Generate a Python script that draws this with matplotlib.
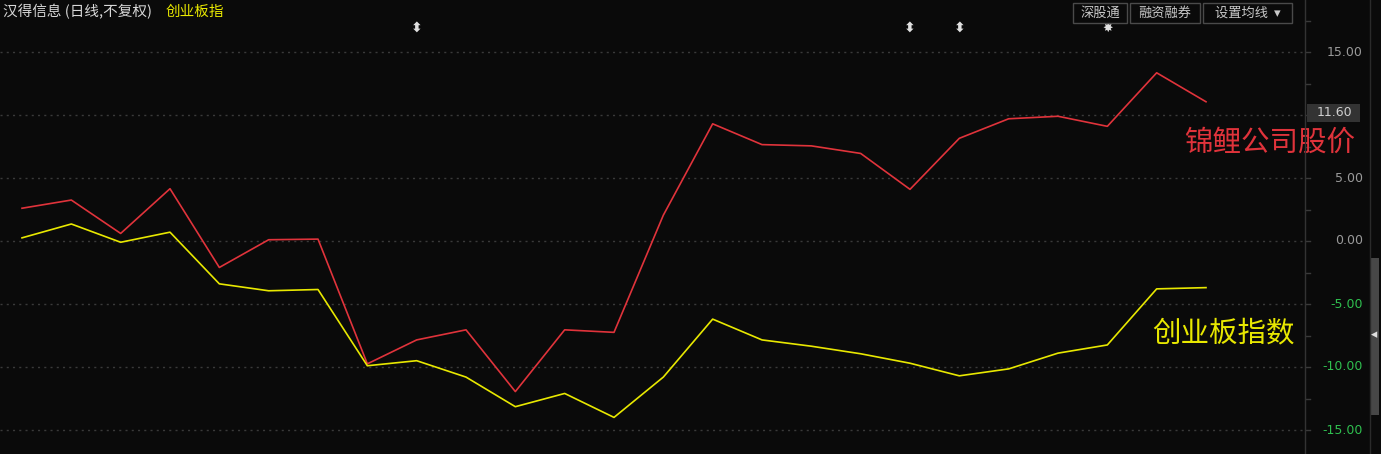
import matplotlib
matplotlib.use('Agg')
import matplotlib.pyplot as plt
from matplotlib.transforms import blended_transform_factory
from matplotlib.patches import Rectangle

plt.rcParams['font.family'] = ['Noto Sans CJK SC', 'DejaVu Sans']

# percent change since start
stock_pct = [2.6, 3.25, 0.6, 4.15, -2.1, 0.1, 0.15, -9.75, -7.85, -7.05, -11.95, -7.05,
             -7.25, 2.05, 9.3, 7.65, 7.55, 6.95, 4.1, 8.15, 9.7, 9.9, 9.1, 13.35, 11.05]
index_pct = [0.25, 1.35, -0.1, 0.7, -3.4, -3.95, -3.85, -9.9, -9.5, -10.8, -13.15, -12.1,
             -14.0, -10.8, -6.2, -7.85, -8.35, -8.95, -9.7, -10.7, -10.15, -8.9, -8.25,
             -3.8, -3.7]
yticks = [15, 10, 5, 0, -5, -10, -15]
event_days = [8, 18, 19]
star_days = [22]
last_price = '11.60'

bg = '#0a0a0a'
red = '#e0333b'
yellow = '#e8e800'

W, H = 1381, 454
fig = plt.figure(figsize=(W / 100, H / 100), dpi=100, facecolor=bg)

# main plot: x pixel 0..1305, zero line at y=241, 12.6 px per unit
step = (1206 - 22) / 24
ax = fig.add_axes([0, 0, 1305 / W, 1])
ax.set_facecolor(bg)
ax.set_xlim(-22 / step, (1305 - 22) / step)
ax.set_ylim((241 - H) / 12.6, 241 / 12.6)
for s in ax.spines.values():
    s.set_visible(False)
ax.set_xticks([])
ax.set_yticks([])

for v in yticks:
    ax.axhline(v, color='#3a3a3a', lw=1, ls=(0, (1.5, 3)), zorder=1)

x = list(range(len(stock_pct)))
ax.plot(x, stock_pct, color=red, lw=1.2, zorder=3)
ax.plot(x, index_pct, color=yellow, lw=1.2, zorder=3)

# event markers on top
for d in event_days:
    ax.text(d, 16.9, '⬍', color='#e0e0e0', fontsize=10, ha='center', va='center',
            family='DejaVu Sans', fontweight='bold')
for d in star_days:
    ax.text(d, 16.9, '✸', color='#e0e0e0', fontsize=9, ha='center', va='center',
            family='DejaVu Sans')

# annotations
ax.text((1355 - 22) / step, 7.8, '锦鲤公司股价', color=red, fontsize=20.5,
        ha='right', va='center')
ax.text((1295 - 22) / step, -7.3, '创业板指数', color=yellow, fontsize=20.5,
        ha='right', va='center')

# title
fig.text(3 / W, 1 - 12 / H, '汉得信息 (日线,不复权)', color='#d8d8d8', fontsize=10.5,
         ha='left', va='center')
fig.text(166 / W, 1 - 12 / H, '创业板指', color=yellow, fontsize=10.5,
         ha='left', va='center')

# buttons top right
for x0, x1, label in [(1073, 1127, '深股通'), (1130, 1200, '融资融券'),
                      (1203, 1292, '设置均线  ▾')]:
    fig.patches.append(Rectangle((x0 / W, 1 - 23 / H), (x1 - x0) / W, 20 / H,
                                 transform=fig.transFigure, facecolor=bg,
                                 edgecolor='#4a4a4a', lw=1))
    fig.text((x0 + x1) / 2 / W, 1 - 13 / H, label, color='#c8c8c8', fontsize=9.5,
             ha='center', va='center')

# right axis panel
fig.add_artist(plt.Line2D([1305 / W, 1305 / W], [0, 1], color='#333333', lw=1))
fig.add_artist(plt.Line2D([1370 / W, 1370 / W], [0, 1], color='#2a2a2a', lw=1))
trans = blended_transform_factory(fig.transFigure, ax.transData)
for v in yticks:
    if v == 10:
        continue
    col = '#2fbf4f' if v < 0 else '#9a9a9a'
    ax.text(1363 / W, v, f'{v:.2f}', color=col, fontsize=9, ha='right', va='center',
            transform=trans, family='DejaVu Sans')
for v in [17.5, 12.5, 7.5, 2.5, -2.5, -7.5, -12.5, 15, 10, 5, 0, -5, -10, -15]:
    ax.plot([1306 / W, 1310 / W], [v, v], color='#3a3a3a', lw=1, transform=trans,
            clip_on=False)

# last price box
fig.patches.append(Rectangle((1307 / W, 1 - 122 / H), 53 / W, 18 / H,
                             transform=fig.transFigure, facecolor='#333333',
                             edgecolor='none'))
fig.text(1334 / W, 1 - 113 / H, last_price, color='#d0d0d0', fontsize=9,
         ha='center', va='center', family='DejaVu Sans')

# scrollbar
fig.patches.append(Rectangle((1370 / W, 1 - 415 / H), 9 / W, 157 / H,
                             transform=fig.transFigure, facecolor='#474747',
                             edgecolor='none'))
fig.text(1374 / W, 1 - 335 / H, '◂', color='#e0e0e0', fontsize=9,
         ha='center', va='center', family='DejaVu Sans')

fig.savefig('out.png', dpi=100, facecolor=bg)
